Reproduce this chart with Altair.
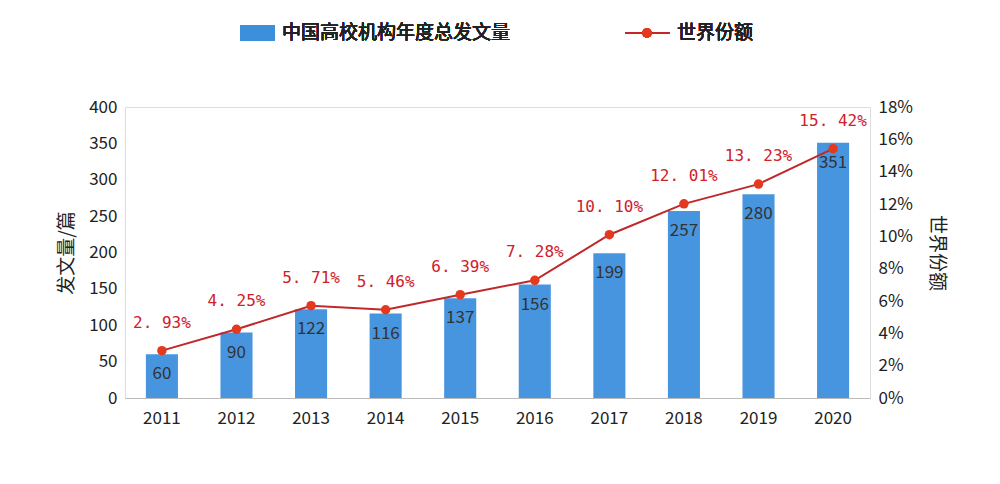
import altair as alt
import pandas as pd

years = ["2011", "2012", "2013", "2014", "2015", "2016", "2017", "2018", "2019", "2020"]
papers = [60, 90, 122, 116, 137, 156, 199, 257, 280, 351]
shares = [2.93, 4.25, 5.71, 5.46, 6.39, 7.28, 10.10, 12.01, 13.23, 15.42]

df = pd.DataFrame({"year": years, "papers": papers, "share": shares})
df["share_label"] = [f"{s:.2f}%".replace(".", ". ") for s in shares]

font = "Noto Sans CJK SC"
x = alt.X("year:O", title=None,
          scale=alt.Scale(paddingInner=0.57, paddingOuter=0.28),
          axis=alt.Axis(labelAngle=0, labelFontSize=17, labelColor="#222", labelFont=font,
                        domainColor="#bbb", ticks=False, labelPadding=12))

yl = alt.Y("papers:Q", title="发文量/篇", scale=alt.Scale(domain=[0, 400]),
           axis=alt.Axis(values=list(range(0, 401, 50)), grid=False, domain=False, ticks=False,
                         labelFontSize=17, labelColor="#222", labelFont=font,
                         titleFontSize=19, titleFont=font, titleFontWeight="normal",
                         titleColor="#222", titlePadding=12, labelPadding=8))
yr = alt.Y("share:Q", title="世界份额", scale=alt.Scale(domain=[0, 18]),
           axis=alt.Axis(orient="right", values=list(range(0, 19, 2)), grid=False, domain=False,
                         ticks=False, labelExpr="datum.value + '%'",
                         labelFontSize=17, labelColor="#222", labelFont=font,
                         titleFontSize=19, titleFont=font, titleFontWeight="normal",
                         titleColor="#222", titlePadding=14, labelPadding=8))

base = alt.Chart(df)

bars = base.mark_bar(color="#3d8fdc", opacity=0.95).encode(x=x, y=yl)
bar_text = base.mark_text(dy=20, fontSize=17, color="#333", font=font).encode(
    x=x, y=yl, text="papers:Q")
left = alt.layer(bars, bar_text)

line = base.mark_line(color="#c0282a", strokeWidth=2).encode(x=x, y=yr)
pts = base.mark_point(filled=True, size=90, color="#e5391f", opacity=1).encode(x=x, y=yr)
pct = base.mark_text(dy=-28, fontSize=16, color="#d0202a", font="DejaVu Sans Mono").encode(
    x=x, y=yr, text="share_label:N")

# legend
leg_bar = base.mark_rect(color="#3d8fdc").encode(
    x=alt.value(115), x2=alt.value(150), y=alt.value(-82), y2=alt.value(-66))
leg_bar_t = base.mark_text(align="left", fontSize=19, font=font, color="#222").encode(
    x=alt.value(157), y=alt.value(-74), text=alt.value("中国高校机构年度总发文量"))
leg_line = base.mark_rule(color="#c0282a", strokeWidth=2).encode(
    x=alt.value(500), x2=alt.value(545), y=alt.value(-74))
leg_pt = base.mark_point(filled=True, size=90, color="#e5391f", opacity=1).encode(
    x=alt.value(522), y=alt.value(-74))
leg_line_t = base.mark_text(align="left", fontSize=19, font=font, color="#222").encode(
    x=alt.value(552), y=alt.value(-74), text=alt.value("世界份额"))

right = alt.layer(line, pts, pct, leg_bar, leg_bar_t, leg_line, leg_pt, leg_line_t)

chart = alt.layer(left, right).resolve_scale(y="independent").properties(
    width=745, height=291,
    autosize=alt.AutoSizeParams(type="none"),
    padding={"left": 117, "top": 99, "right": 122, "bottom": 78},
).configure_view(strokeWidth=0).configure(background="white")

chart.save("out.html", embed_options={"renderer": "svg", "actions": False})
